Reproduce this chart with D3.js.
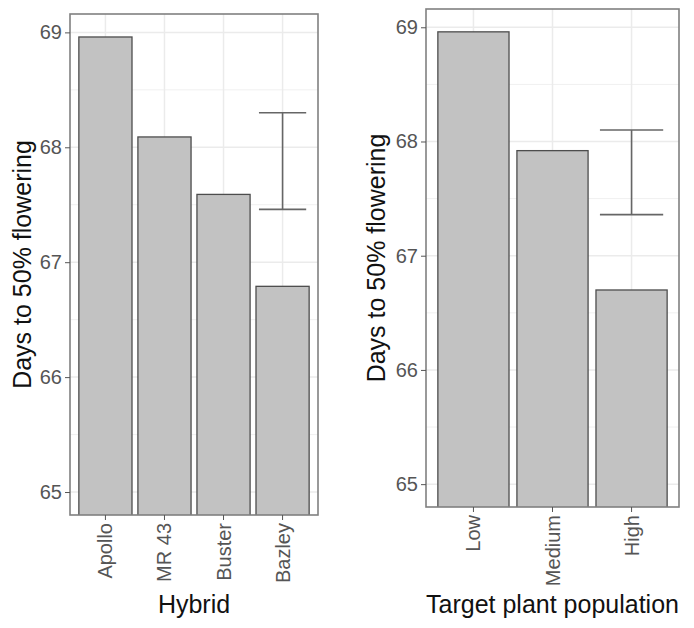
<!DOCTYPE html>
<html>
<head>
    <title>Days to 50% flowering</title>
    <script src="https://d3js.org/d3.v7.min.js"></script>
    <style>
        body { margin: 0; background: white; }
        svg text { font-family: "Liberation Sans", Arial, sans-serif; }
    </style>
</head>
<body>
    <div id="chart"></div>

    <script>
        // Chart values
        const hybrids = ["Apollo", "MR 43", "Buster", "Bazley"];
        const hybridDays = [68.96, 68.09, 67.59, 66.79];
        const hybridLsd = [67.46, 68.30];   // LSD bar, drawn over the last category

        const populations = ["Low", "Medium", "High"];
        const populationDays = [68.96, 67.92, 66.70];
        const populationLsd = [67.36, 68.10];

        const yTicks = [65, 66, 67, 68, 69];
        const yMinor = [65.5, 66.5, 67.5, 68.5];
        const yDomain = [64.8, 69.16];
        const yTitle = "Days to 50% flowering";

        // Layout of the two panels
        const panels = [
            { id: "hybrid", cats: hybrids, values: hybridDays, lsd: hybridLsd, xTitle: "Hybrid",
              left: 70, right: 318, top: 14, bottom: 515, yTitleX: 31 },
            { id: "pop", cats: populations, values: populationDays, lsd: populationLsd, xTitle: "Target plant population",
              left: 426, right: 679, top: 9, bottom: 507, yTitleX: 385 }
        ];

        const svg = d3.select("#chart")
            .append("svg")
            .attr("width", 694)
            .attr("height", 628);

        panels.forEach(p => drawPanel(p));

        function drawPanel(p) {
            const x = d3.scaleBand()
                .domain(p.cats)
                .range([p.left, p.right])
                .paddingInner(0.1)
                .paddingOuter(0.15);

            const y = d3.scaleLinear()
                .domain(yDomain)
                .range([p.bottom, p.top]);

            const g = svg.append("g");

            // clip so bars start below the visible range, like coord_cartesian
            g.append("clipPath")
                .attr("id", "clip-" + p.id)
                .append("rect")
                .attr("x", p.left)
                .attr("y", p.top)
                .attr("width", p.right - p.left)
                .attr("height", p.bottom - p.top);

            // grid lines
            g.selectAll(".minor")
                .data(yMinor)
                .enter()
                .append("line")
                .attr("x1", p.left).attr("x2", p.right)
                .attr("y1", d => y(d)).attr("y2", d => y(d))
                .attr("stroke", "#f0f0f0")
                .attr("stroke-width", 1);

            g.selectAll(".major")
                .data(yTicks)
                .enter()
                .append("line")
                .attr("x1", p.left).attr("x2", p.right)
                .attr("y1", d => y(d)).attr("y2", d => y(d))
                .attr("stroke", "#ebebeb")
                .attr("stroke-width", 1.5);

            g.selectAll(".vgrid")
                .data(p.cats)
                .enter()
                .append("line")
                .attr("x1", d => x(d) + x.bandwidth() / 2)
                .attr("x2", d => x(d) + x.bandwidth() / 2)
                .attr("y1", p.top).attr("y2", p.bottom)
                .attr("stroke", "#ebebeb")
                .attr("stroke-width", 1.5);

            // bars
            g.append("g")
                .attr("clip-path", `url(#clip-${p.id})`)
                .selectAll("rect")
                .data(p.cats)
                .enter()
                .append("rect")
                .attr("x", d => x(d))
                .attr("width", x.bandwidth())
                .attr("y", (d, i) => y(p.values[i]))
                .attr("height", (d, i) => y(60) - y(p.values[i]))
                .attr("fill", "#c2c2c2")
                .attr("stroke", "#4d4d4d")
                .attr("stroke-width", 1.3);

            // LSD error bar over last category
            const last = p.cats[p.cats.length - 1];
            const cx = x(last) + x.bandwidth() / 2;
            const capHalf = x.step() * 0.4;
            const eb = g.append("g")
                .attr("stroke", "#666")
                .attr("stroke-width", 1.6);
            eb.append("line")
                .attr("x1", cx).attr("x2", cx)
                .attr("y1", y(p.lsd[0])).attr("y2", y(p.lsd[1]));
            p.lsd.forEach(v => {
                eb.append("line")
                    .attr("x1", cx - capHalf).attr("x2", cx + capHalf)
                    .attr("y1", y(v)).attr("y2", y(v));
            });

            // panel border
            g.append("rect")
                .attr("x", p.left)
                .attr("y", p.top)
                .attr("width", p.right - p.left)
                .attr("height", p.bottom - p.top)
                .attr("fill", "none")
                .attr("stroke", "#808080")
                .attr("stroke-width", 1.6);

            // axes
            const yAxis = g.append("g")
                .attr("transform", `translate(${p.left},0)`)
                .call(d3.axisLeft(y).tickValues(yTicks).tickSize(5).tickPadding(3).tickFormat(d3.format("d")));
            yAxis.select(".domain").remove();
            yAxis.selectAll("line").attr("stroke", "#555");
            yAxis.selectAll("text")
                .attr("fill", "#555")
                .style("font-size", "20px");

            const xAxis = g.append("g")
                .attr("transform", `translate(0,${p.bottom})`)
                .call(d3.axisBottom(x).tickSize(5).tickPadding(3));
            xAxis.select(".domain").remove();
            xAxis.selectAll("line").attr("stroke", "#555");
            xAxis.selectAll("text")
                .attr("fill", "#555")
                .style("font-size", "20px")
                .attr("transform", "rotate(-90)")
                .attr("x", -8)
                .attr("y", 0)
                .attr("dy", "0.35em")
                .attr("text-anchor", "end");

            // axis titles
            g.append("text")
                .attr("x", (p.left + p.right) / 2)
                .attr("y", 613)
                .attr("text-anchor", "middle")
                .attr("fill", "#111")
                .style("font-size", "25px")
                .text(p.xTitle);

            g.append("text")
                .attr("transform", `translate(${p.yTitleX},${(p.top + p.bottom) / 2}) rotate(-90)`)
                .attr("text-anchor", "middle")
                .attr("fill", "#111")
                .style("font-size", "25px")
                .text(yTitle);
        }
    </script>
</body>
</html>
